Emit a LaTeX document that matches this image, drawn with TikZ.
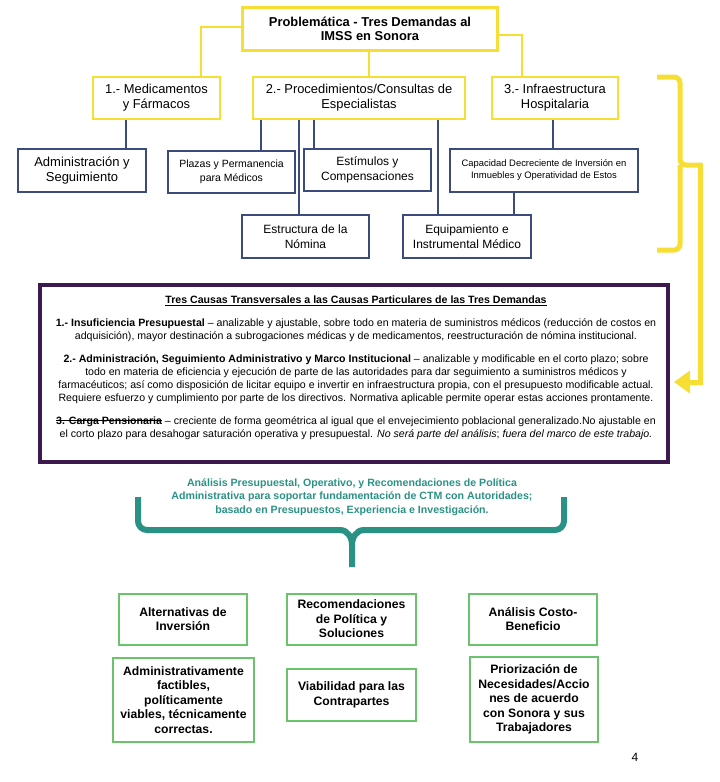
\documentclass[tikz,border=0pt]{standalone}
\usepackage{fontspec}
\setmainfont{Liberation Sans}
\usetikzlibrary{arrows.meta}
\definecolor{amarillo}{HTML}{F6DE34}
\definecolor{azul}{HTML}{3B4C7C}
\definecolor{morado}{HTML}{3D1A4E}
\definecolor{verde}{HTML}{6BC46B}
\definecolor{turquesa}{HTML}{2A9285}
\newsavebox\cajatachado
\newcommand\tachado[1]{\sbox\cajatachado{#1}\rlap{\usebox\cajatachado}\rule[0.3em]{\wd\cajatachado}{0.8pt}}
\begin{document}
\begin{tikzpicture}[x=1pt, y=-1pt,
  cajaam/.style={draw=amarillo, line width=2pt, fill=white, align=center, inner sep=0pt, font=\fontsize{12.9}{15}\selectfont},
  cajaaz/.style={draw=azul, line width=1.7pt, fill=white, align=center, inner sep=0pt, font=\fontsize{12}{14.5}\selectfont},
  cajave/.style={draw=verde, line width=2pt, fill=white, align=center, inner sep=0pt, font=\fontsize{12.2}{14.5}\selectfont\bfseries},
  lineaam/.style={draw=amarillo, line width=2pt},
  lineaaz/.style={draw=azul, line width=1.6pt}]
  \useasboundingbox (0,0) rectangle (720,782);
  % problematica
  \node[cajaam, line width=3.5pt, minimum width=255pt, minimum height=43pt, font=\fontsize{12.9}{14.5}\selectfont\bfseries] (prob) at (370,29) {Problemática - Tres Demandas al\\IMSS en Sonora};
  \node[cajaam, minimum width=127pt, minimum height=42pt] (med) at (156.5,98) {1.- Medicamentos\\y Fármacos};
  \node[cajaam, minimum width=212pt, minimum height=42pt] (proc) at (359,98) {2.- Procedimientos/Consultas de\\Especialistas};
  \node[cajaam, minimum width=126pt, minimum height=42pt] (infra) at (555,98) {3.- Infraestructura\\Hospitalaria};
  \draw[lineaam] ([yshift=2pt]prob.west) -| ([xshift=44.5pt]med.north);
  \draw[lineaam] ([xshift=-1pt]prob.south) -- ([xshift=-1pt]prob.south |- proc.north);
  \draw[lineaam] ([yshift=-6pt]prob.east) -| ([xshift=-33pt]infra.north);
  % causas particulares
  \node[cajaaz, minimum width=128pt, minimum height=43pt, font=\fontsize{13}{15.5}\selectfont] (adm) at (82,170.5) {Administración y\\Seguimiento};
  \node[cajaaz, minimum width=127pt, minimum height=42pt, font=\fontsize{10.5}{13.5}\selectfont] (plazas) at (231.5,172) {Plazas y Permanencia\\para Médicos};
  \node[cajaaz, minimum width=127pt, minimum height=42pt] (estim) at (367.5,170) {Estímulos y\\Compensaciones};
  \node[cajaaz, minimum width=188pt, minimum height=43pt, font=\fontsize{9.4}{12}\selectfont] (capac) at (544,170.5) {Capacidad Decreciente de Inversión en\\Inmuebles y Operatividad de Estos};
  \node[cajaaz, minimum width=127pt, minimum height=43pt] (nomina) at (305.5,236.5) {Estructura de la\\Nómina};
  \node[cajaaz, minimum width=128pt, minimum height=43pt] (equipo) at (467,236.5) {Equipamiento e\\Instrumental Médico};
  \draw[lineaaz] ([xshift=-30.5pt]med.south) -- ([xshift=-30.5pt]med.south |- adm.north);
  \draw[lineaaz] ([xshift=-98pt]proc.south) -- ([xshift=-98pt]proc.south |- plazas.north);
  \draw[lineaaz] ([xshift=-60pt]proc.south) -- ([xshift=-60pt]proc.south |- nomina.north);
  \draw[lineaaz] ([xshift=-45pt]proc.south) -- ([xshift=-45pt]proc.south |- estim.north);
  \draw[lineaaz] ([xshift=79pt]proc.south) -- ([xshift=79pt]proc.south |- equipo.north);
  \draw[lineaaz] ([xshift=-2pt]infra.south) -- ([xshift=-2pt]infra.south |- capac.north);
  \draw[lineaaz] ([xshift=-30pt]capac.south) -- ([xshift=-30pt]capac.south |- equipo.north);
  % llave amarilla y flecha
  \draw[amarillo, line width=5pt, rounded corners=6pt] (657,77) -- (680,77) -- (680,165) -- (702,165);
  \draw[amarillo, line width=5pt, rounded corners=6pt] (657,250) -- (680,250) -- (680,165);
  \coordinate (punta) at (674,382);
  \draw[amarillo, line width=5pt, -{Triangle[width=22pt,length=16pt]}] (700,163) -- (700,382) -- (punta);
  % causas transversales
  \node[draw=morado, line width=4pt, minimum width=628pt, minimum height=177pt, inner sep=0pt] (causas) at (354,373.5) {};
  \node[anchor=north, align=center, inner sep=0pt, font=\fontsize{10.6}{13}\selectfont] (txtcausas) at (356,296) {%
    \textbf{\underline{Tres Causas Transversales a las Causas Particulares de las Tres Demandas}}\\[9.5pt]
    \textbf{1.- Insuficiencia Presupuestal} – analizable y ajustable, sobre todo en materia de suministros médicos (reducción de costos en\\
    adquisición), mayor destinación a subrogaciones médicas y de medicamentos, reestructuración de nómina institucional.\\[10pt]
    \textbf{2.- Administración, Seguimiento Administrativo y Marco Institucional} – analizable y modificable en el corto plazo; sobre\\
    todo en materia de eficiencia y ejecución de parte de las autoridades para dar seguimiento a suministros médicos y\\
    farmacéuticos; así como disposición de licitar equipo e invertir en infraestructura propia, con el presupuesto modificable actual.\\
    Requiere esfuerzo y cumplimiento por parte de los directivos. Normativa aplicable permite operar estas acciones prontamente.\\[10pt]
    \textbf{\tachado{3. Carga Pensionaria}} – creciente de forma geométrica al igual que el envejecimiento poblacional generalizado.No ajustable en\\
    el corto plazo para desahogar saturación operativa y presupuestal. \textit{No será parte del análisis}; \textit{fuera del marco de este trabajo.}};
  % analisis
  \node[align=center, inner sep=0pt, text=turquesa, font=\fontsize{10.6}{13.7}\selectfont\bfseries] (analisis) at (352,497) {Análisis Presupuestal, Operativo, y Recomendaciones de Política\\Administrativa para soportar fundamentación de CTM con Autoridades;\\basado en Presupuestos, Experiencia e Investigación.};
  \draw[turquesa, line width=6pt, rounded corners=9pt] (138,497) -- (138,530) -- (342,530);
  \draw[turquesa, line width=6pt, rounded corners=9pt] (564,497) -- (564,530) -- (362,530);
  \draw[turquesa, line width=6pt] (340,530) to[out=0,in=90] (352,545) -- (352,567);
  \draw[turquesa, line width=6pt] (364,530) to[out=180,in=90] (352,545);
  % propuestas
  \node[cajave, minimum width=128pt, minimum height=51pt] (altern) at (183,619) {Alternativas de\\Inversión};
  \node[cajave, minimum width=129pt, minimum height=51pt] (recom) at (351.5,619) {Recomendaciones\\de Política y\\Soluciones};
  \node[cajave, minimum width=128pt, minimum height=51pt] (costo) at (533,619) {Análisis Costo-\\Beneficio};
  \node[cajave, minimum width=141pt, minimum height=84pt] (factib) at (183.5,700) {Administrativamente\\factibles,\\políticamente\\viables, técnicamente\\correctas.};
  \node[cajave, minimum width=129pt, minimum height=52pt] (viab) at (351.5,695) {Viabilidad para las\\Contrapartes};
  \node[cajave, minimum width=128pt, minimum height=85pt] (prior) at (534,699.5) {Priorización de\\Necesidades/Accio\\nes de acuerdo\\con Sonora y sus\\Trabajadores};
  \node[font=\fontsize{12}{14}\selectfont] (pagina) at (635,757) {4};
\end{tikzpicture}
\end{document}
